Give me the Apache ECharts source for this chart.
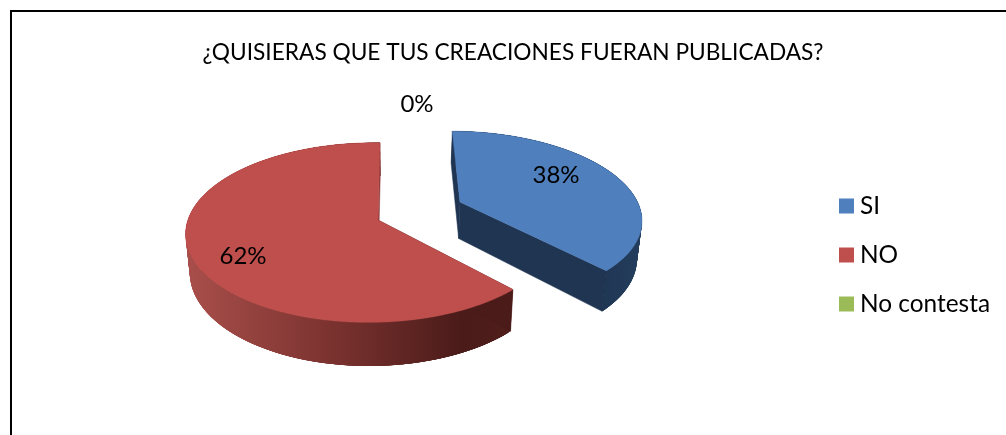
<!DOCTYPE html>
<html><head><meta charset="utf-8">
<style>html,body{margin:0;padding:0;background:#fff}#c{width:1006px;height:435px}</style>
<script src="https://cdn.jsdelivr.net/npm/echarts@6/dist/echarts.min.js"></script>
</head><body><div id="c"></div>
<script>
var titleText = '¿QUISIERAS QUE TUS CREACIONES FUERAN PUBLICADAS?';
var categories = ['SI', 'NO', 'No contesta'];
var shares = [38, 62, 0];
var topColors = ['#4F7FBC', '#BE4F4C', '#9BBB59'];

// Projection of the tilted pie: layout only, angles come from shares
var view = {vx: 394, y0: 220, R: 184, S: 88, k: 0.14, a0: -0.087, depth: 37.5, shrink: 0.98};
var sliceOffsets = [[0.456, -0.21], [0, 0], [0, 0]];   // exploded apex offset
var rimOffsets = [[-0.006, 0.035], [-0.033, 0], [0, 0]];   // rim centre relative to apex
var labelAnchors = [[556, 175], [243, 256], [417, 104]];
var total = shares.reduce(function (s, v) { return s + v; }, 0);

function project(a, b, low) {
  var w = 1 - view.k * b;
  var x = view.R * a / w, y = view.y0 + view.S * b / w;
  if (low) { x *= view.shrink; y += view.depth / w; }
  return [view.vx + x, y];
}
function renderSlice(idx) {
  return function (params, api) {
    var val = api.value(0), kids = [], before = 0;
    for (var i = 0; i < idx; i++) before += shares[i];
    var t0 = before / total * 2 * Math.PI, t1 = (before + val) / total * 2 * Math.PI;
    var oa = view.a0 + sliceOffsets[idx][0], ob = sliceOffsets[idx][1];
    var ca = rimOffsets[idx][0], cb = rimOffsets[idx][1];
    if (val > 0) {
      var upper = [], lower = [], n = Math.ceil((t1 - t0) / 0.012);
      for (var j = 0; j <= n; j++) {
        var t = t0 + (t1 - t0) * j / n;
        var dx = Math.sin(t), dy = -Math.cos(t);
        var cd = ca * dx + cb * dy;
        var d = cd + Math.sqrt(cd * cd - ca * ca - cb * cb + 1);
        upper.push(project(oa + d * dx, ob + d * dy, false));
        lower.push(project(oa + d * dx, ob + d * dy, true));
      }
      var ap = project(oa, ob, false), apL = project(oa, ob, true);
      var wall = idx === 0 ? '#1F3552' : '#8A3B38';
      var rim = idx === 0
        ? {type: 'linear', x: 560, y: 0, x2: 645, y2: 0, global: true, colorStops: [{offset: 0, color: '#1C3049'}, {offset: 1, color: '#243E5E'}]}
        : {type: 'linear', x: 190, y: 0, x2: 510, y2: 0, global: true, colorStops: [{offset: 0, color: '#A84E4A'}, {offset: 0.45, color: '#7A322F'}, {offset: 0.85, color: '#4A1B19'}, {offset: 1, color: '#501E1B'}]};
      var poly = function (pts, fill, sw) {
        return {type: 'polygon', shape: {points: pts}, style: {fill: fill, stroke: sw ? fill : null, lineWidth: sw || 0}};
      };
      // overlapping quads sweep the side wall without seams
      for (var q = 0; q < n; q++) {
        var e = Math.min(n, q + 5);
        kids.push(poly([upper[q], upper[e], lower[e], lower[q]], rim));
      }
      kids.push(poly([ap, upper[0], lower[0], apL], idx === 0 ? wall : '#4A1B19', 0.5));
      kids.push(poly([ap, upper[n], lower[n], apL], wall, 0.5));
      kids.push(poly([ap].concat(upper), topColors[idx], 0.5));
    }
    kids.push({type: 'text', z2: 10, x: labelAnchors[idx][0], y: labelAnchors[idx][1],
      style: {text: Math.round(val / total * 100) + '%', fill: '#000', fontSize: 24, fontFamily: 'Lato', align: 'center', verticalAlign: 'middle'}});
    return {type: 'group', children: kids};
  };
}
var series = categories.map(function (name, i) {
  return {type: 'custom', name: name, coordinateSystem: 'none', silent: true, animation: false,
    itemStyle: {color: topColors[i]}, data: [[shares[i]]], renderItem: renderSlice(i)};
});
var chart = echarts.init(document.getElementById('c'), null, {renderer: 'canvas'});
chart.setOption({
  animation: false,
  backgroundColor: '#fff',
  title: {text: titleText, left: 508, top: 36, textAlign: 'center',
    textStyle: {fontFamily: 'Lato', fontWeight: 'normal', fontSize: 22.7, color: '#000'}},
  legend: {orient: 'vertical', left: 834, top: 189, itemWidth: 15, itemHeight: 15, itemGap: 25,
    icon: 'rect', data: categories, selectedMode: false,
    textStyle: {fontFamily: 'Lato', fontSize: 24.4, color: '#000', padding: [0, 0, 0, 1]}},
  graphic: [{type: 'polyline', silent: true, shape: {points: [[11, 435], [11, 11], [1006, 11]]},
    style: {stroke: '#000', lineWidth: 2, fill: null}}],
  series: series
});
</script></body></html>
